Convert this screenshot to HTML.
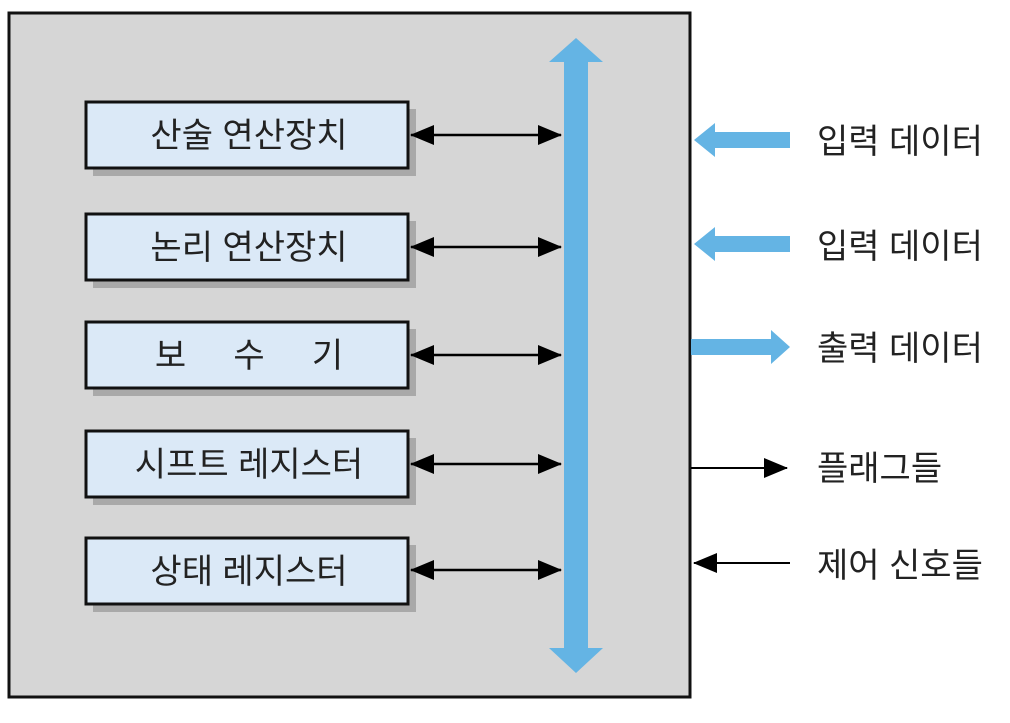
<!DOCTYPE html>
<html><head><meta charset="utf-8"><style>
body{margin:0;background:#fff;}
svg text{font-family:"Liberation Sans","Noto Sans CJK KR","NanumGothic",sans-serif;}
</style></head><body>
<svg width="1010" height="718" viewBox="0 0 1010 718" xmlns="http://www.w3.org/2000/svg">
<defs>
<marker id="ah2" markerWidth="24" markerHeight="22" refX="23" refY="11" orient="auto-start-reverse" markerUnits="userSpaceOnUse"><path d="M0,1 L24,11 L0,21 z" fill="#000"/></marker>
</defs>
<rect x="9" y="13" width="681" height="684" fill="#d6d6d6" stroke="#111" stroke-width="3"/>
<path d="M564,62 L549,62 L576,38 L603,62 L588,62 L588,648 L603,648 L576,673 L549,648 L564,648 Z" fill="#64b4e4"/>
<g font-size="34" fill="#222">
<rect x="93" y="109" width="323" height="67" fill="#a9a9a9"/>
<rect x="86" y="102" width="322" height="66" fill="#dbe9f7" stroke="#111" stroke-width="3"/>
<text x="249" y="147" text-anchor="middle">산술 연산장치</text>
<rect x="93" y="221" width="323" height="67" fill="#a9a9a9"/>
<rect x="86" y="214" width="322" height="66" fill="#dbe9f7" stroke="#111" stroke-width="3"/>
<text x="249" y="259" text-anchor="middle">논리 연산장치</text>
<rect x="93" y="329" width="323" height="67" fill="#a9a9a9"/>
<rect x="86" y="322" width="322" height="66" fill="#dbe9f7" stroke="#111" stroke-width="3"/>
<text x="249" y="367" text-anchor="middle" xml:space="preserve">보     수     기</text>
<rect x="93" y="438" width="323" height="67" fill="#a9a9a9"/>
<rect x="86" y="431" width="322" height="66" fill="#dbe9f7" stroke="#111" stroke-width="3"/>
<text x="249" y="476" text-anchor="middle">시프트 레지스터</text>
<rect x="93" y="545" width="323" height="67" fill="#a9a9a9"/>
<rect x="86" y="538" width="322" height="66" fill="#dbe9f7" stroke="#111" stroke-width="3"/>
<text x="249" y="583" text-anchor="middle">상태 레지스터</text>
</g>
<g stroke="#000" stroke-width="2.5">
<line x1="411" y1="135" x2="561" y2="135" marker-start="url(#ah2)" marker-end="url(#ah2)"/>
<line x1="411" y1="247" x2="561" y2="247" marker-start="url(#ah2)" marker-end="url(#ah2)"/>
<line x1="411" y1="355" x2="561" y2="355" marker-start="url(#ah2)" marker-end="url(#ah2)"/>
<line x1="411" y1="464" x2="561" y2="464" marker-start="url(#ah2)" marker-end="url(#ah2)"/>
<line x1="411" y1="570" x2="561" y2="570" marker-start="url(#ah2)" marker-end="url(#ah2)"/>
</g>
<path d="M790,132 L715,132 L715,123 L694,140 L715,157 L715,148 L790,148 Z" fill="#64b4e4"/>
<path d="M790,236 L715,236 L715,227 L694,244 L715,261 L715,252 L790,252 Z" fill="#64b4e4"/>
<path d="M691,339 L771,339 L771,330 L790,347 L771,364 L771,355 L691,355 Z" fill="#64b4e4"/>
<line x1="691" y1="468" x2="787" y2="468" stroke="#000" stroke-width="2" marker-end="url(#ah2)"/>
<line x1="790" y1="563" x2="694" y2="563" stroke="#000" stroke-width="2" marker-end="url(#ah2)"/>
<g font-size="34" fill="#222">
<text x="817" y="153">입력 데이터</text>
<text x="817" y="258">입력 데이터</text>
<text x="817" y="360">출력 데이터</text>
<text x="817" y="480">플래그들</text>
<text x="817" y="577">제어 신호들</text>
</g>
</svg>
</body></html>
